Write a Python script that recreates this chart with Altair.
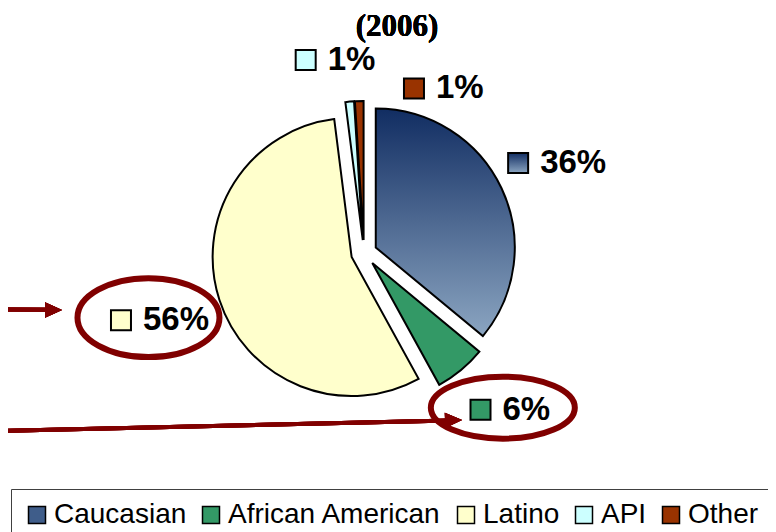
import math
import altair as alt
import pandas as pd

# ---- data -------------------------------------------------------------
categories = ["Caucasian", "African American", "Latino", "API", "Other"]
shares = [36, 6, 56, 1, 1]
colors = ["#3f5d8a", "#339966", "#ffffcc", "#ccffff", "#993300"]
highlighted = ["Latino", "African American"]
title_text = "(2006)"

df = pd.DataFrame({"category": categories, "share": shares})

# ---- layout / style ---------------------------------------------------
W, H = 760, 524
CX, CY = 356, 245          # pie centre (px)
R = 139                    # pie radius
EXPLODE = 13               # explosion distance
MAROON = "#800000"

gradient = {
    "gradient": "linear", "x1": 0, "y1": 0, "x2": 0, "y2": 1,
    "stops": [{"offset": 0, "color": "#112d62"}, {"offset": 1, "color": "#8ba5c1"}],
}

legend = alt.Legend(
    orient="none", legendX=3, legendY=481, direction="horizontal", title=None,
    symbolType="square", symbolSize=289, symbolStrokeColor="black",
    symbolStrokeWidth=1.5, symbolOpacity=1,
    labelFont="Liberation Sans", labelFontSize=28, labelColor="black",
    labelOffset=3, labelLimit=0, columnPadding=10, padding=12,
    strokeColor="#404040", fillColor="white",
)

fill = alt.condition(
    alt.datum.category == "Caucasian",
    alt.value(gradient),
    alt.Fill("category:N", scale=alt.Scale(domain=categories, range=colors), legend=legend),
)

base = (
    alt.Chart(df)
    .transform_window(idx="row_number()")
    .transform_joinaggregate(total="sum(share)")
    .transform_window(cum="sum(share)", sort=[alt.SortField("idx")], frame=[None, 0])
    .transform_calculate(
        f0="(datum.cum - datum.share) / datum.total",
        f1="datum.cum / datum.total",
        mid="2*PI*(datum.cum - datum.share/2) / datum.total",
    )
    .transform_calculate(
        ex=f"{CX} + {EXPLODE}*sin(datum.mid)",
        ey=f"{CY} - {EXPLODE}*cos(datum.mid)",
        la="datum.mid + (datum.category === 'Other' ? 0.483 : datum.category === 'API' ? -0.049 : datum.category === 'African American' ? -0.065 : 0)",
        lr="datum.category === 'Other' ? 184 : datum.category === 'API' ? 196 : 214",
        lbl="format(datum.share, 'd') + '%'",
    )
    .transform_calculate(
        lx=f"{CX - 1} + datum.lr*sin(datum.la)",
        ly=f"{CY + 1} - datum.lr*cos(datum.la)",
        tw="18.35*(length(datum.lbl) - 1) + 29.3",
    )
    .transform_calculate(
        sqx="datum.lx - (33 + datum.tw)/2 + 11",
        tx="datum.lx - (33 + datum.tw)/2 + 33",
    )
)

theta_scale = alt.Scale(domain=[0, 1], range=[0, 2 * math.pi])

pie = base.mark_arc(stroke="black", strokeWidth=2, radius=R, opacity=1).encode(
    theta=alt.Theta("f0:Q", scale=theta_scale),
    theta2="f1:Q",
    x=alt.X("ex:Q", scale=None, axis=None),
    y=alt.Y("ey:Q", scale=None, axis=None),
    fill=fill,
)

squares = base.mark_point(
    shape="square", filled=True, size=400, stroke="black", strokeWidth=2, opacity=1
).encode(
    x=alt.X("sqx:Q", scale=None, axis=None),
    y=alt.Y("ly:Q", scale=None, axis=None),
    fill=fill,
)

texts = base.mark_text(
    font="Liberation Sans", fontSize=33, fontWeight="bold", align="left",
    baseline="middle", color="black",
).encode(
    x=alt.X("tx:Q", scale=None, axis=None),
    y=alt.Y("ly:Q", scale=None, axis=None),
    text="lbl:N",
)

ell_latino = base.transform_filter(alt.datum.category == highlighted[0]).mark_point(
    shape="M-1,0A1,0.556,0,1,1,1,0A1,0.556,0,1,1,-1,0Z",
    size=142 * 142, filled=False, stroke=MAROON, strokeWidth=6, opacity=1,
    xOffset=-11, yOffset=-2.5,
).encode(x=alt.X("lx:Q", scale=None, axis=None), y=alt.Y("ly:Q", scale=None, axis=None))

ell_aa = base.transform_filter(alt.datum.category == highlighted[1]).mark_point(
    shape="M-1,0A1,0.43,0,1,1,1,0A1,0.43,0,1,1,-1,0Z",
    size=144 * 144, filled=False, stroke=MAROON, strokeWidth=6, opacity=1,
    xOffset=-7, yOffset=-2,
).encode(x=alt.X("lx:Q", scale=None, axis=None), y=alt.Y("ly:Q", scale=None, axis=None))

# arrows (annotation)
arrow1 = alt.Chart(df).mark_rule(color=MAROON, strokeWidth=4).encode(
    x=alt.value(-8), x2=alt.value(44), y=alt.value(301.5), y2=alt.value(301.8)
)
head1 = alt.Chart(df).mark_point(
    shape="M-1,-0.9L1,0L-1,0.9Z", size=289, filled=True, color=MAROON, opacity=1
).encode(x=alt.value(45.5), y=alt.value(302))
arrow2 = alt.Chart(df).mark_rule(color=MAROON, strokeWidth=4).encode(
    x=alt.value(-8), x2=alt.value(442), y=alt.value(423), y2=alt.value(412.4)
)
head2 = alt.Chart(df).mark_point(
    shape="M-1,-0.9L1,0L-1,0.9Z", size=289, filled=True, color=MAROON, opacity=1, angle=358.6
).encode(x=alt.value(445.5), y=alt.value(412.2))

title = alt.Chart(df).mark_text(
    font="Liberation Serif", fontSize=31, fontWeight="bold", align="center",
    baseline="alphabetic", color="black",
).encode(x=alt.value(389), y=alt.value(28), text=alt.value(title_text))

chart = (
    alt.layer(pie, squares, texts, ell_latino, ell_aa, arrow1, head1, arrow2, head2, title)
    .properties(width=W, height=H, autosize=alt.AutoSizeParams(type="none"), padding=0)
    .configure_view(stroke=None)
)

chart.save("out.html", embed_options={"renderer": "svg", "actions": False})
